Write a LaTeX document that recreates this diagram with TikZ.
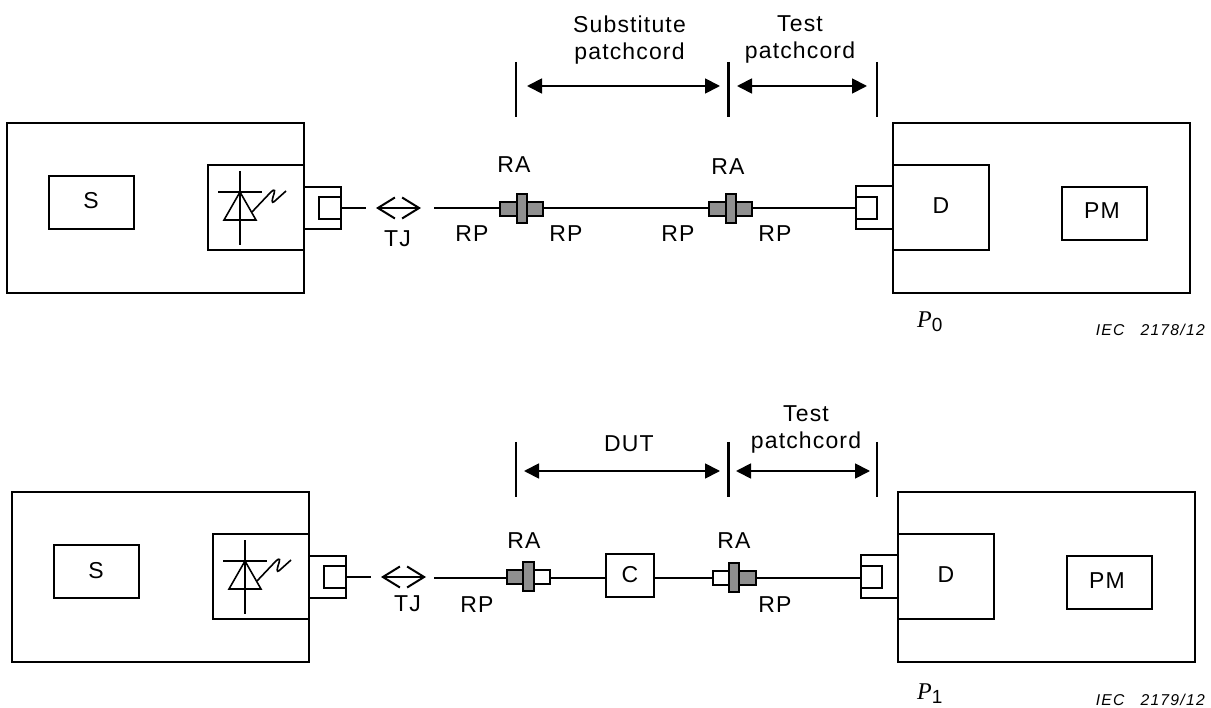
\documentclass[tikz,border=0pt]{standalone}
\usepackage{fontspec}
\setmainfont[LetterSpace=5]{Liberation Sans}
\newfontfamily\tms{Liberation Serif}
\newfontfamily\plainsans{Liberation Sans}
\newfontfamily\iecfont[LetterSpace=8]{Liberation Sans}
\usetikzlibrary{arrows.meta}
\definecolor{rpgray}{HTML}{8F8F8F}
\tikzset{
 bx/.style={draw=black,line width=1.6pt,inner sep=0pt,outer sep=0pt,anchor=center},
 gb/.style={bx,fill=rpgray},
 wb/.style={bx,fill=white},
 ln/.style={line width=1.6pt},
 tick/.style={line width=1.5pt},
 midtick/.style={line width=2.1pt},
 dim/.style={line width=1.8pt,{Triangle[length=15pt,width=15pt]}-{Triangle[length=15pt,width=15pt]}},
 tj/.style={line width=2pt,{Straight Barb[length=17pt,width=21pt,line width=2pt]}-{Straight Barb[length=17pt,width=21pt,line width=2pt]}},
 lab/.style={font=\fontsize{23}{26.5}\selectfont,align=center,inner sep=0pt,anchor=base},
 iec/.style={font=\fontsize{15.7}{15.7}\iecfont\itshape,inner sep=0pt,anchor=base east},
 pl/.style={font=\fontsize{24}{24}\selectfont,inner sep=0pt,anchor=base west},
}
\newcommand{\psym}[1]{{\tms\itshape P}\raisebox{-4pt}{\fontsize{19}{19}\plainsans #1}}
\newcommand{\instrument}[1]{%
 \node[bx,minimum width=297pt,minimum height=170pt] (#1src) at (155.5,208) {};
 \node[bx,minimum width=85pt,minimum height=53pt] (#1s) at (91.5,202.5) {};
 \node[lab] (#1sl) at (91,209) {S};
 \node[bx,minimum width=96pt,minimum height=85pt] (#1las) at (256,207.5) {};
 \node[bx,minimum width=37pt,minimum height=42pt] (#1port) at (322.5,208) {};
 \node[bx,minimum width=22pt,minimum height=22pt] (#1pin) at (330,208) {};
 \draw[ln] (240,171)--(240,245) (218,192)--(262,192);
 \draw[ln,line join=miter] (240,192)--(224,220)--(256,220)--cycle;
 \draw[ln] (252,212)--(270,193) .. controls (276,187) and (275,191) .. (273,197) .. controls (271,204) and (273,203) .. (276,200) -- (286,191);
 \coordinate (#1a) at (366,208);
 \coordinate (#1t1) at (376,208);
 \coordinate (#1t2) at (421,208);
 \draw[ln] (#1pin.east)--(#1a);
 \draw[tj] (#1t1)--(#1t2);
 \node[bx,minimum width=297pt,minimum height=170pt] (#1det) at (1041.5,208) {};
 \node[bx,minimum width=37pt,minimum height=43pt] (#1dport) at (874.5,207.5) {};
 \node[bx,minimum width=21pt,minimum height=22pt] (#1dpin) at (866.5,208) {};
 \node[wb,minimum width=96pt,minimum height=85pt] (#1d) at (941,207.5) {};
 \node[lab] (#1dl) at (941,213.5) {D};
 \node[bx,minimum width=85pt,minimum height=53pt] (#1pm) at (1104.5,213.5) {};
 \node[lab] (#1pml) at (1102,219) {PM};
}
\begin{document}
\begin{tikzpicture}[x=1pt,y=-1pt]
\useasboundingbox (0,0) rectangle (1211,708);
\fill[white] (0,0) rectangle (1211,708);
% ---------- top
\instrument{a}
\coordinate (as) at (434,208);
\node[gb,minimum width=43pt,minimum height=14pt] (ac1) at (521.5,209) {};
\node[gb,minimum width=10pt,minimum height=29pt] (ac1m) at (522,208.5) {};
\node[gb,minimum width=43pt,minimum height=14pt] (ac2) at (730.5,209) {};
\node[gb,minimum width=10pt,minimum height=29pt] (ac2m) at (731,208.5) {};
\draw[ln] (as)--(as -| ac1.west);
\draw[ln] (as -| ac1.east)--(as -| ac2.west);
\draw[ln] (as -| ac2.east)--(as -| adport.west);
\coordinate (at1) at (516,62); \coordinate (ab1) at (516,117);
\coordinate (at2) at (728.5,62); \coordinate (ab2) at (728.5,117);
\coordinate (at3) at (877,62); \coordinate (ab3) at (877,117);
\draw[tick] (at1)--(ab1); \draw[midtick] (at2)--(ab2); \draw[tick] (at3)--(ab3);
\coordinate (ad1) at (527,86); \coordinate (ad2) at (720,86);
\coordinate (ad3) at (737,86); \coordinate (ad4) at (867,86);
\draw[dim] (ad1)--(ad2);
\draw[dim] (ad3)--(ad4);
\node[lab] (asub) at (629.5,59.5) {Substitute\\patchcord};
\node[lab] (atest) at (800,58.5) {Test\\patchcord};
\node[lab] (ara1) at (514,173) {RA};
\node[lab] (ara2) at (728,175) {RA};
\node[lab] (arp1) at (472,242) {RP};
\node[lab] (arp2) at (566,242) {RP};
\node[lab] (arp3) at (678,242) {RP};
\node[lab] (arp4) at (775,242) {RP};
\node[lab] (atj) at (397.5,247) {TJ};
\node[pl] (ap0) at (917,328) {\psym{0}};
\node[iec] (aiec) at (1205,336) {IEC\hspace{16pt}2178/12};
% ---------- bottom
\begin{scope}[shift={(5,369)}]
\instrument{b}
\end{scope}
\coordinate (bs) at (434,578);
\node[wb,minimum width=43pt,minimum height=14pt] (bc1) at (528.5,577) {};
\node[gb,minimum width=16pt,minimum height=14pt] (bc1d) at (515,577) {};
\node[gb,minimum width=11pt,minimum height=29pt] (bc1m) at (528.5,576.5) {};
\node[bx,minimum width=48pt,minimum height=43pt] (bc) at (630,575.5) {};
\node[lab] (bcl) at (630,582) {C};
\node[wb,minimum width=43pt,minimum height=14pt] (bc2) at (734.5,578) {};
\node[gb,minimum width=17pt,minimum height=14pt] (bc2d) at (747.5,578) {};
\node[gb,minimum width=10pt,minimum height=29pt] (bc2m) at (734,577.5) {};
\draw[ln] (bs)--(bs -| bc1.west);
\draw[ln] (bs -| bc1.east)--(bs -| bc.west);
\draw[ln] (bs -| bc.east)--(bs -| bc2.west);
\draw[ln] (bs -| bc2.east)--(bs -| bdport.west);
\coordinate (bt1) at (516,442); \coordinate (bb1) at (516,497);
\coordinate (bt2) at (728.5,442); \coordinate (bb2) at (728.5,497);
\coordinate (bt3) at (877,442); \coordinate (bb3) at (877,497);
\draw[tick] (bt1)--(bb1); \draw[midtick] (bt2)--(bb2); \draw[tick] (bt3)--(bb3);
\coordinate (bd1) at (524,471); \coordinate (bd2) at (720,471);
\coordinate (bd3) at (736,471); \coordinate (bd4) at (870,471);
\draw[dim] (bd1)--(bd2);
\draw[dim] (bd3)--(bd4);
\node[lab] (bdut) at (629,452) {DUT};
\node[lab] (btest) at (806,448.5) {Test\\patchcord};
\node[lab] (bra1) at (524,548) {RA};
\node[lab] (bra2) at (734,548) {RA};
\node[lab] (brp1) at (477,612) {RP};
\node[lab] (brp2) at (775,612) {RP};
\node[lab] (btj) at (407.5,611) {TJ};
\node[pl] (bp1) at (917,699) {\psym{1}};
\node[iec] (biec) at (1205,705) {IEC\hspace{16pt}2179/12};
\end{tikzpicture}
\end{document}
